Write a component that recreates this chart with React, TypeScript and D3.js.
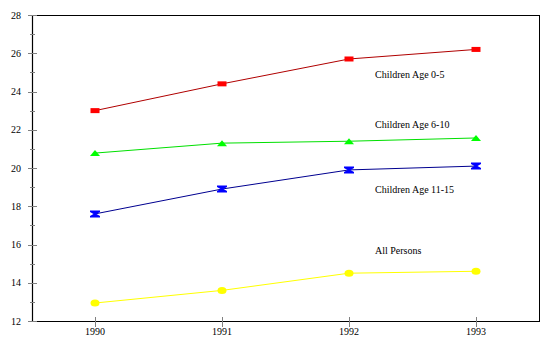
import React from "react";
import * as d3 from "d3";

const years = [1990, 1991, 1992, 1993];
const age0to5 = [23.0, 24.4, 25.7, 26.2];
const age6to10 = [20.78, 21.3, 21.4, 21.57];
const age11to15 = [17.6, 18.9, 19.9, 20.1];
const allPersons = [12.94, 13.6, 14.5, 14.6];
const yMajorTicks = [12, 14, 16, 18, 20, 22, 24, 26, 28];
const yMinorTicks = [13, 15, 17, 19, 21, 23, 25, 27];

const seriesNames = ["Children Age 0-5", "Children Age 6-10", "Children Age 11-15", "All Persons"];
const seriesValues = [age0to5, age6to10, age11to15, allPersons];
const lineColors = ["#b00000", "#00e000", "#000090", "#ffff00"];
const markerColors = ["#ff0000", "#00ff00", "#0000ff", "#ffff00"];
const markerTypes = ["square", "triangle", "bowtie", "circle"];
const labelYValue = [24.7, 22.09, 18.69, 15.5];

const W = 560;
const H = 361;
const left = 32;
const right = 540;
const top = 15;
const bottom = 321;

export default function App() {
  const x = d3.scaleLinear().domain([1990, 1993]).range([95, 476]);
  const y = d3.scaleLinear().domain([12, 28]).range([bottom, top]);
  const line = d3
    .line<number>()
    .x((_, i) => x(years[i]))
    .y((d) => y(d));

  const marker = (type: string, cx: number, cy: number, color: string, key: string) => {
    if (type === "square")
      return <rect key={key} x={cx - 4.5} y={cy - 2.5} width={9} height={5} fill={color} />;
    if (type === "triangle")
      return (
        <path key={key} d={`M${cx - 5},${cy + 3}L${cx + 5},${cy + 3}L${cx},${cy - 3}Z`} fill={color} />
      );
    if (type === "bowtie")
      return (
        <path
          key={key}
          d={`M${cx - 5},${cy - 3.5}L${cx + 5},${cy - 3.5}L${cx + 5},${cy - 2}L${cx + 1.5},${cy}L${cx + 5},${cy + 2}L${cx + 5},${cy + 3.5}L${cx - 5},${cy + 3.5}L${cx - 5},${cy + 2}L${cx - 1.5},${cy}L${cx - 5},${cy - 2}Z`}
          fill={color}
        />
      );
    return <ellipse key={key} cx={cx} cy={cy} rx={4.5} ry={3.5} fill={color} />;
  };

  const font = "'Liberation Serif', 'Times New Roman', serif";

  return (
    <svg
      width={W}
      height={H}
      style={{ position: "absolute", left: 0, top: 0, background: "#fff" }}
      fontFamily={font}
      fontSize={10}
    >
      <rect x={0} y={0} width={W} height={H} fill="#fff" />
      {/* frame */}
      <line x1={left} x2={right} y1={top + 0.5} y2={top + 0.5} stroke="#000" strokeWidth={1} />
      <line x1={right - 0.5} x2={right - 0.5} y1={top} y2={bottom} stroke="#000" strokeWidth={1} />
      <line x1={left} x2={right} y1={bottom + 0.5} y2={bottom + 0.5} stroke="#000" strokeWidth={1.2} />
      <line x1={left + 0.5} x2={left + 0.5} y1={top} y2={bottom + 1} stroke="#000" strokeWidth={1.2} />
      {/* y ticks */}
      {yMajorTicks.map((t) => (
        <g key={"ym" + t}>
          <line x1={28} x2={37} y1={Math.round(y(t)) + 0.5} y2={Math.round(y(t)) + 0.5} stroke="#808080" />
          <text x={21} y={y(t) + 3.5} textAnchor="end" fill="#000">
            {t}
          </text>
        </g>
      ))}
      {yMinorTicks.map((t) => (
        <line key={"yn" + t} x1={30} x2={35} y1={Math.round(y(t)) + 0.5} y2={Math.round(y(t)) + 0.5} stroke="#808080" />
      ))}
      {/* x ticks */}
      {years.map((yr) => (
        <g key={"x" + yr}>
          <line x1={Math.round(x(yr)) + 0.5} x2={Math.round(x(yr)) + 0.5} y1={317} y2={327} stroke="#808080" />
          <text x={x(yr)} y={335} textAnchor="middle" fill="#000">
            {yr}
          </text>
        </g>
      ))}
      {/* series */}
      {seriesValues.map((vals, si) => (
        <g key={"s" + si}>
          <path d={line(vals) || ""} fill="none" stroke={lineColors[si]} strokeWidth={1} />
          {vals.map((v, i) => marker(markerTypes[si], x(years[i]), y(v), markerColors[si], `m${si}-${i}`))}
          <text x={375} y={y(labelYValue[si])} fill="#000">
            {seriesNames[si]}
          </text>
        </g>
      ))}
    </svg>
  );
}
